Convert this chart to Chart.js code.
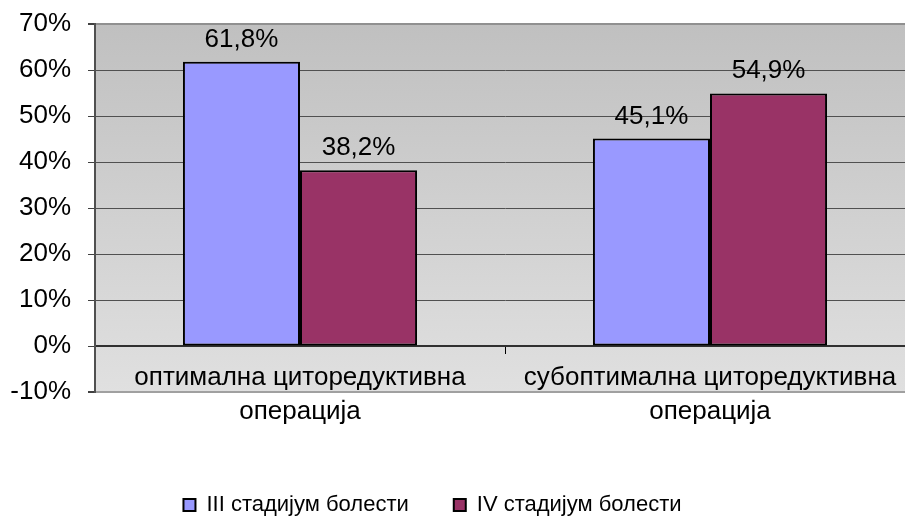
<!DOCTYPE html>
<html>
<head>
<meta charset="utf-8">
<script src="https://cdn.jsdelivr.net/npm/chart.js@4/dist/chart.umd.min.js"></script>
<style>
html,body{margin:0;padding:0;background:#fff;overflow:hidden;}
#wrap{width:905px;height:522px;overflow:hidden;position:relative;}
canvas{display:block;}
</style>
</head>
<body>
<div id="wrap"><canvas id="c" width="915" height="522"></canvas></div>
<script>
const categories = [
  ["оптимална циторедуктивна", "операција"],
  ["субоптимална циторедуктивна", "операција"]
];
const seriesNames = ["III стадијум болести", "IV стадијум болести"];
const stage3 = [61.8, 45.1];
const stage4 = [38.2, 54.9];
const yTicks = [-10, 0, 10, 20, 30, 40, 50, 60, 70];

const FONT = "'Liberation Sans', Arial, sans-serif";
const FS = 26;
const LFS = 22;
Chart.defaults.font.family = FONT;
Chart.defaults.color = '#000';

const fmt = v => v.toFixed(1).replace('.', ',') + '%';

const bgPlugin = {
  id: 'bgPlugin',
  beforeDraw(chart) {
    const {ctx, chartArea: a} = chart;
    const g = ctx.createLinearGradient(0, a.top, 0, a.bottom);
    g.addColorStop(0, '#c0c0c0');
    g.addColorStop(1, '#e0e0e0');
    ctx.save();
    ctx.fillStyle = g;
    ctx.fillRect(a.left, a.top, a.right - a.left, a.bottom - a.top);
    ctx.restore();
  }
};

const valueLabels = {
  id: 'valueLabels',
  afterDatasetsDraw(chart) {
    const ctx = chart.ctx;
    ctx.save();
    ctx.font = FS + 'px ' + FONT;
    ctx.fillStyle = '#000';
    ctx.textAlign = 'center';
    ctx.textBaseline = 'alphabetic';
    chart.data.datasets.forEach((ds, i) => {
      chart.getDatasetMeta(i).data.forEach((bar, j) => {
        ctx.fillText(fmt(ds.data[j]), bar.x, bar.y - 15);
      });
    });
    ctx.restore();
  }
};

const legendShift = {
  id: 'legendShift',
  afterLayout(chart) {
    if (chart.legend) { chart.legend.right -= 50; }
  }
};

new Chart(document.getElementById('c'), {
  type: 'bar',
  data: {
    labels: categories,
    datasets: [
      { label: seriesNames[0], data: stage3, backgroundColor: '#9999ff', borderColor: '#000', borderWidth: 2, borderSkipped: false },
      { label: seriesNames[1], data: stage4, backgroundColor: '#993366', borderColor: '#000', borderWidth: 2, borderSkipped: false }
    ]
  },
  options: {
    responsive: false,
    animation: false,
    devicePixelRatio: 1,
    layout: { padding: { top: 0, left: 0, right: 0, bottom: 0 } },
    datasets: { bar: { categoryPercentage: 0.571, barPercentage: 1.0 } },
    scales: {
      x: {
        type: 'category',
        position: { y: 0 },
        grid: { drawOnChartArea: false, drawTicks: true, tickLength: 7, color: '#000', offset: true },
        border: { display: true, color: '#303030', width: 2 },
        ticks: { font: { size: FS, lineHeight: 1.31 }, color: '#000', maxRotation: 0, autoSkip: false, padding: 8 }
      },
      y: {
        min: -10, max: 70,
        afterBuildTicks(scale) { scale.ticks = yTicks.map(v => ({ value: v })); },
        afterFit(scale) { scale.width = 95; scale.paddingTop = 24; scale.paddingBottom = 0; },
        grid: {
          color: ctx => (ctx.tick && ctx.tick.value === -10) ? '#a0a0a0' : (ctx.tick && ctx.tick.value === 70 ? '#909090' : '#505050'),
          lineWidth: ctx => (ctx.tick && (ctx.tick.value === -10 || ctx.tick.value === 70)) ? 2 : 1,
          tickColor: '#404040',
          tickLength: 7,
          drawTicks: true
        },
        border: { display: true, color: '#505050', width: 2 },
        ticks: { font: { size: FS }, color: '#000', padding: 17, callback: v => v + '%' }
      }
    },
    plugins: {
      legend: {
        position: 'bottom',
        maxHeight: 130,
        title: { display: true, text: ' ', font: { size: 12, lineHeight: 1 }, padding: { top: 45, bottom: 0 } },
        labels: { boxWidth: 12, boxHeight: 12, padding: 45, font: { size: LFS }, color: '#000' }
      },
      tooltip: { enabled: false }
    }
  },
  plugins: [bgPlugin, valueLabels, legendShift]
});
</script>
</body>
</html>
